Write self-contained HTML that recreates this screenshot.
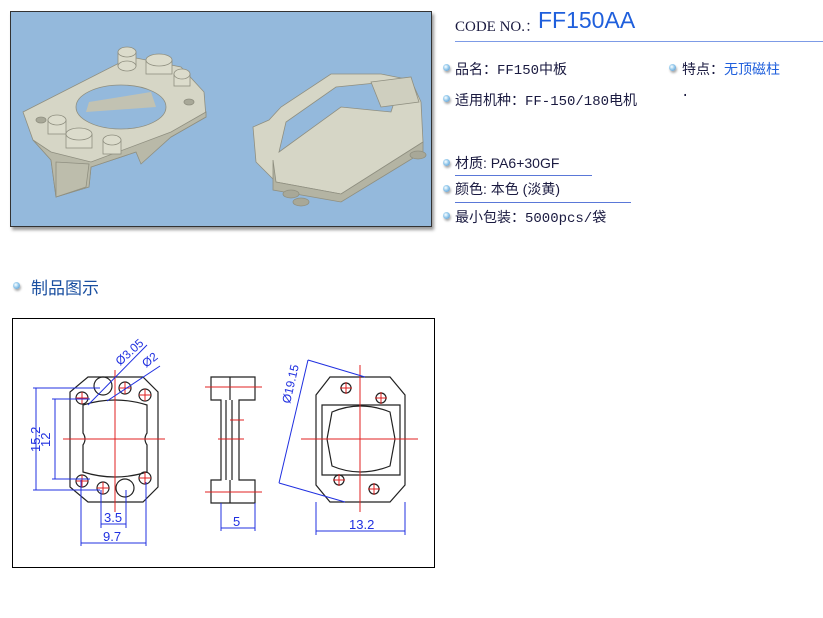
<!DOCTYPE html>
<html><head><meta charset="utf-8"><style>
body{margin:0;width:823px;height:618px;background:#fff;position:relative;overflow:hidden;font-family:"Liberation Serif","Noto Serif CJK SC",serif;}
.a{position:absolute;white-space:nowrap;}
.t{font-size:14px;color:#1a1a40;font-family:"Liberation Mono","Noto Sans CJK SC",monospace;}
.b{position:absolute;width:7px;height:7px;border-radius:50%;background:radial-gradient(circle at 40% 40%,#fff 0,#9fd0ef 40%,#3f86c6 100%);box-shadow:1px 2px 2px #aaa;}
.blue{color:#1f5fdc;}
</style></head><body>
<div class="a" style="left:10px;top:11px;width:420px;height:214px;background:#94b9dc;border:1px solid #333;box-shadow:2px 3px 3px #999;">
<svg width="420" height="214">
<g stroke="#8f8f80" stroke-width="0.8">
<path d="M12 100 L120 45 L170 55 L193 80 L195 105 L160 125 L125 140 L80 155 L78 175 L45 185 L40 148 L22 128 Z" fill="#d6d6c6"/>
<path d="M22 128 L40 148 L45 185 L78 175 L80 155 L125 140 L130 152 L160 125 L195 105 L195 100 L160 120 L80 150 L40 140 Z" fill="#b9b9a8"/>
<path d="M45 150 L45 185 L75 175 L78 152 Z" fill="#bdbdac"/>
<ellipse cx="110" cy="95" rx="45" ry="22" fill="#94b9dc"/>
<path d="M75 100 L78 90 L140 80 L145 95 Z" fill="#c2c2b2" stroke="none"/>
<g fill="#dcdccc"><rect x="107" y="40" width="18" height="14"/><ellipse cx="116" cy="40" rx="9" ry="5"/><ellipse cx="116" cy="54" rx="9" ry="5"/>
<rect x="135" y="48" width="26" height="14"/><ellipse cx="148" cy="48" rx="13" ry="6"/>
<rect x="163" y="62" width="16" height="12"/><ellipse cx="171" cy="62" rx="8" ry="5"/>
<rect x="37" y="108" width="18" height="14"/><ellipse cx="46" cy="108" rx="9" ry="5"/>
<rect x="55" y="122" width="26" height="14"/><ellipse cx="68" cy="122" rx="13" ry="6"/>
<rect x="92" y="128" width="18" height="14"/><ellipse cx="101" cy="128" rx="9" ry="5"/></g>
<ellipse cx="30" cy="108" rx="5" ry="3" fill="#a8a898"/><ellipse cx="178" cy="90" rx="5" ry="3" fill="#a8a898"/>
<path d="M242 115 L258 108 L270 95 L320 62 L370 62 L400 68 L410 90 L412 130 L330 182 L265 170 L245 150 Z" fill="#d6d6c6"/>
<path d="M268 140 L330 95 L380 100 L388 75 L375 70 L325 75 L275 110 Z" fill="#94b9dc"/>
<path d="M262 148 L265 170 L330 182 L412 130 L412 140 L330 190 L262 178 Z" fill="#b4b4a3"/>
<path d="M360 70 L400 65 L408 90 L370 95 Z" fill="#cfcfbf"/>
<ellipse cx="280" cy="182" rx="8" ry="4" fill="#a8a898"/><ellipse cx="290" cy="190" rx="8" ry="4" fill="#a8a898"/><ellipse cx="407" cy="143" rx="8" ry="4" fill="#a8a898"/>
</g>
</svg>
</div>
<div class="a t" style="left:455px;top:15px;font-family:'Liberation Serif','Noto Serif CJK SC',serif;font-size:15px;">CODE NO.：</div>
<div class="a blue" style="left:538px;top:7px;font-size:23px;font-family:'Liberation Sans',sans-serif;">FF150AA</div>
<div class="a" style="left:455px;top:41px;width:368px;height:1px;background:#7d9be6;"></div>
<div class="b" style="left:443px;top:64px;"></div><div class="a t" style="left:455px;top:59px;">品名：FF150中板</div>
<div class="b" style="left:669px;top:64px;"></div><div class="a t" style="left:682px;top:59px;">特点：<span class="blue">无顶磁柱</span></div>
<div class="b" style="left:443px;top:95px;"></div><div class="a t" style="left:455px;top:90px;">适用机种：FF-150/180电机</div>
<div class="a t" style="left:681px;top:88px;">·</div>
<div class="b" style="left:443px;top:159px;"></div><div class="a t" style="left:455px;top:153px;font-family:'Liberation Sans','Noto Sans CJK SC',sans-serif;">材质: PA6+30GF</div>
<div class="a" style="left:455px;top:175px;width:137px;height:1px;background:#5a78d8;"></div>
<div class="b" style="left:443px;top:185px;"></div><div class="a t" style="left:455px;top:179px;font-family:'Liberation Sans','Noto Sans CJK SC',sans-serif;">颜色: 本色 (淡黄)</div>
<div class="a" style="left:455px;top:202px;width:176px;height:1px;background:#5a78d8;"></div>
<div class="b" style="left:443px;top:212px;"></div><div class="a t" style="left:455px;top:207px;">最小包装：5000pcs/袋</div>
<div class="b" style="left:13px;top:282px;"></div>
<div class="a" style="left:31px;top:274px;font-size:17px;color:#1a4fa0;font-family:'Liberation Sans','Noto Sans CJK SC',sans-serif;">制品图示</div>
<div class="a" style="left:12px;top:318px;width:421px;height:248px;border:1px solid #000;"></div>
<svg class="a" style="left:0;top:0" width="823" height="618" font-family="Liberation Sans,sans-serif">
<g fill="none" stroke="#222" stroke-width="1.2">
<path d="M88 377 L143 377 L158 392 L158 487 L143 502 L88 502 L70 487 L70 392 Z"/>
<path d="M83 405 Q115 395 147 405 L147 433 Q143 439 147 445 L147 472 Q115 482 83 472 L83 445 Q87 439 83 433 Z"/>
<circle cx="82" cy="398" r="6"/><circle cx="125" cy="388" r="6"/><circle cx="145" cy="395" r="6"/><circle cx="103" cy="386" r="9"/>
<circle cx="82" cy="481" r="6"/><circle cx="103" cy="488" r="6"/><circle cx="125" cy="488" r="9"/><circle cx="145" cy="478" r="6"/>
<path d="M211 377 L255 377 L255 400 L239 400 L239 480 L255 480 L255 503 L211 503 L211 480 L221 480 L221 400 L211 400 Z"/>
<path d="M226 400 L226 480 M232 400 L232 480 M230 377 L230 400 M230 480 L230 503"/>
<path d="M330 377 L390 377 L405 395 L405 485 L390 502 L330 502 L316 485 L316 395 Z"/>
<path d="M322 405 L400 405 L400 475 L322 475 Z"/>
<path d="M332 412 Q360 400 390 412 L395 439 L390 466 Q360 478 332 466 L327 439 Z"/>
<circle cx="346" cy="388" r="5"/><circle cx="381" cy="398" r="5"/><circle cx="339" cy="480" r="5"/><circle cx="374" cy="489" r="5"/>
</g>
<g stroke="#e02020" stroke-width="1">
<path d="M63 439 L165 439 M115 370 L115 512"/>
<path d="M76 398 L88 398 M82 392 L82 404 M119 388 L131 388 M125 382 L125 394 M139 395 L151 395 M145 389 L145 401 M76 481 L88 481 M82 475 L82 487 M139 478 L151 478 M145 472 L145 484 M97 488 L109 488 M103 482 L103 494"/>
<path d="M205 387 L262 387 M205 492 L262 492 M218 439 L244 439 M230 420 L244 420"/>
<path d="M301 439 L418 439 M360 365 L360 512 M340 388 L352 388 M346 382 L346 394 M375 398 L387 398 M381 392 L381 404 M333 480 L345 480 M339 474 L339 486 M368 489 L380 489 M374 483 L374 495"/>
</g>
<g stroke="#2030e0" stroke-width="1" fill="none">
<path d="M33 388 L100 388 M33 490 L100 490 M36 388 L36 490 M52 399 L90 399 M52 479 L90 479 M55 399 L55 479"/>
<path d="M101 490 L101 528 M126 490 L126 528 M101 524 L126 524 M81 480 L81 546 M146 482 L146 546 M81 543 L146 543"/>
<path d="M88 405 L147 345 M107 401 L160 366"/>
<path d="M221 503 L221 531 M255 503 L255 531 M221 528 L255 528"/>
<path d="M308 360 L279 483 M308 360 L365 377 M279 483 L345 502 M316 502 L316 535 M405 502 L405 535 M316 531 L405 531"/>
</g>
<g fill="#2030e0" font-size="13">
<text transform="translate(40,452) rotate(-90)">15.2</text>
<text transform="translate(50,447) rotate(-90)">12</text>
<text x="104" y="522">3.5</text><text x="103" y="541">9.7</text>
<text x="233" y="526">5</text><text x="349" y="529">13.2</text>
<text transform="translate(120,366) rotate(-42)" font-size="12">Ø3.05</text>
<text transform="translate(146,368) rotate(-38)" font-size="12">Ø2</text>
<text transform="translate(290,404) rotate(-77)" font-size="12">Ø19.15</text>
</g>
</svg>
</body></html>
